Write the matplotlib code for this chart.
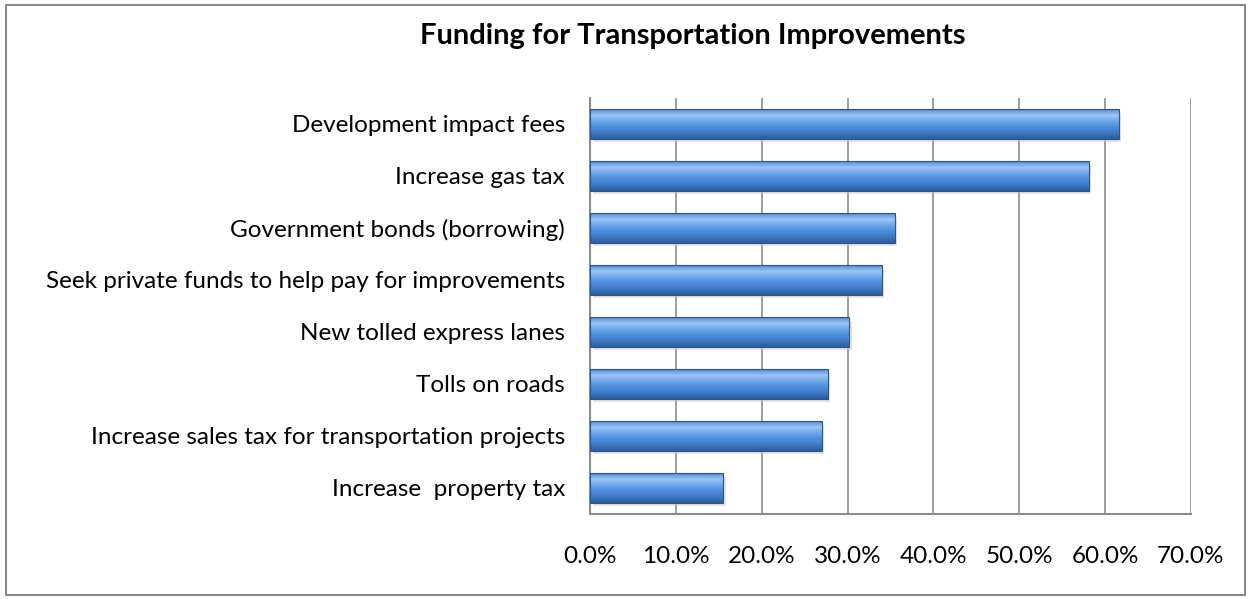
import numpy as np
import matplotlib.pyplot as plt
from matplotlib.patches import Rectangle
from matplotlib.colors import LinearSegmentedColormap

plt.rcParams['font.family'] = ['Lato', 'DejaVu Sans']

TITLE = "Funding for Transportation Improvements"
categories = [
    "Development impact fees",
    "Increase gas tax",
    "Government bonds (borrowing)",
    "Seek private funds to help pay for improvements",
    "New tolled express lanes",
    "Tolls on roads",
    "Increase sales tax for transportation projects",
    "Increase  property tax",
]
values = [61.6, 58.1, 35.5, 34.0, 30.2, 27.7, 27.0, 15.5]
xticks = [0, 10, 20, 30, 40, 50, 60, 70]

fig = plt.figure(figsize=(12.51, 5.99), dpi=100)
fig.patches.append(Rectangle((0.005, 0.007), 0.99, 0.985, transform=fig.transFigure,
                             fill=False, edgecolor="#888888", linewidth=1.5))
ax = fig.add_axes([590 / 1251, 1 - 514 / 599, 601 / 1251, 416 / 599])

y = np.arange(len(categories))[::-1]
bars = ax.barh(y, values, height=0.56, color="#4A86D0", zorder=3)

# bevel look: vertical gradient clipped to each bar, plus soft shadow
grad = LinearSegmentedColormap.from_list(
    "bev", ["#2D5C9C", "#3E7BC6", "#4C8DDA", "#6CA6EA", "#9CC6F4", "#4F8AD6"])
g = np.linspace(0, 1, 64).reshape(-1, 1)
for b in bars:
    x0, y0, w, h = b.get_x(), b.get_y(), b.get_width(), b.get_height()
    ax.add_patch(Rectangle((x0 + 0.3, y0 - 0.06), w, h, color="#c8c8c8",
                           alpha=0.5, zorder=2, linewidth=0))
    im = ax.imshow(g, cmap=grad, aspect="auto", origin="lower",
                   extent=(x0, x0 + w, y0, y0 + h), zorder=4)
    im.set_clip_path(b)
    ax.add_patch(Rectangle((x0, y0), w, h, fill=False, edgecolor="#2A5690",
                           linewidth=0.8, zorder=5))

ax.set_xlim(0, 70)
ax.set_ylim(-0.5, len(categories) - 0.5)
ax.set_xticks(xticks)
ax.set_xticklabels([f"{t:.1f}%" for t in xticks])
ax.set_yticks(y)
ax.set_yticklabels(categories)
ax.tick_params(axis="both", length=0, labelsize=17.5)
ax.tick_params(axis="x", pad=23)
ax.tick_params(axis="y", pad=18)
ax.grid(axis="x", color="#8c8c8c", linewidth=1.2, zorder=0)
for s in ["top", "right"]:
    ax.spines[s].set_visible(False)
for s in ["left", "bottom"]:
    ax.spines[s].set_color("#8c8c8c")
    ax.spines[s].set_linewidth(1.5)

fig.text(693 / 1251, 1 - 36 / 599, TITLE, ha="center", va="center",
         fontsize=21, fontweight="bold")

fig.savefig("out.png", dpi=100)
